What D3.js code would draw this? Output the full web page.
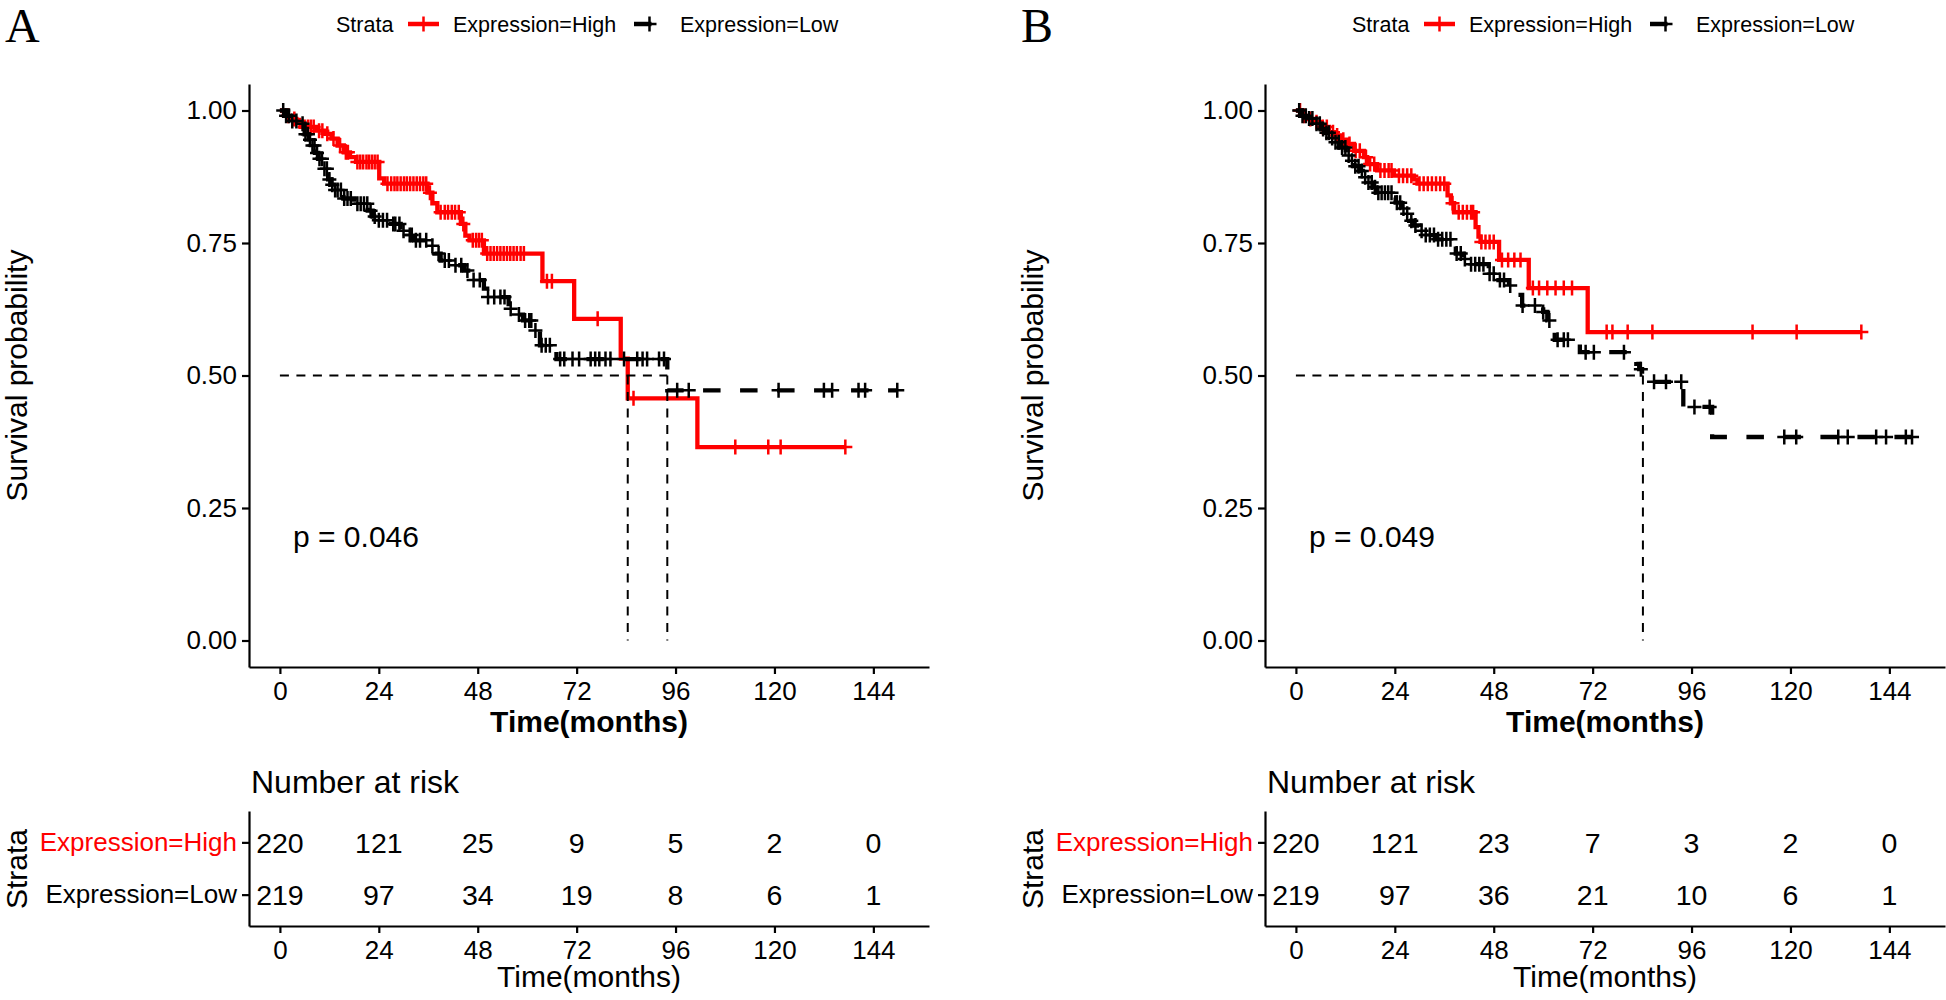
<!DOCTYPE html>
<html>
<head>
<meta charset="utf-8">
<script src="https://cdn.jsdelivr.net/npm/d3@7"></script>
<style>
body { margin: 0; background: #fff; }
svg text { font-family: "Liberation Sans", Arial, sans-serif; }
</style>
</head>
<body>
<svg id="fig" width="1946" height="1000"></svg>
<script>
// ---- data ----
var strata = ["Expression=High", "Expression=Low"];
var strataColor = ["#ff0000", "#000000"];
var panelLabels = ["A", "B"];
var timeTicks = [0, 24, 48, 72, 96, 120, 144];
var survTicks = [0, 0.25, 0.5, 0.75, 1];
var pvals = ["p = 0.046", "p = 0.049"];

// panel A, High
var highA_t = [0, 1, 2.5, 4, 5, 9, 11, 12.5, 14, 15.5, 17, 18.5, 24.1, 25.3, 35.8, 37, 38.2, 43.9, 45, 46, 49.5, 63.7, 71.4, 82.7, 84.4, 101.3];
var highA_s = [1, 0.99, 0.984, 0.978, 0.969, 0.962, 0.956, 0.947, 0.934, 0.921, 0.912, 0.903, 0.872, 0.862, 0.845, 0.825, 0.808, 0.786, 0.764, 0.755, 0.73, 0.678, 0.607, 0.532, 0.457, 0.365];
var highA_end = 137.2;
var highA_cens = [2, 3.5, 6, 6.8, 7.5, 8.2, 9.5, 10.3, 11.5, 13, 14.6, 16, 16.5, 18.8, 19.5, 20.2, 21, 21.6, 22.3, 23, 23.7, 26.1, 27, 27.8, 28.5, 29.3, 30.1, 30.8, 31.6, 32.4, 33.2, 34, 34.8, 35.5, 36.4, 39, 40, 40.8, 41.7, 42.5, 43.4, 44.5, 46.8, 47.6, 48.3, 49, 50.3, 51.1, 51.9, 52.7, 53.5, 54.3, 55.1, 55.9, 56.7, 57.5, 58.4, 59.2, 64.8, 66, 77.1, 85.8, 110.5, 118.5, 121.5, 137.2];

// panel A, Low
var lowA_t = [0, 1.5, 3, 5, 6, 7, 7.7, 8.5, 9.3, 10.5, 11.7, 12.5, 13.3, 15.4, 18, 21.3, 22.5, 23.7, 26.9, 29.3, 31, 32.6, 35.8, 37.5, 39, 41.5, 44.7, 46.3, 49.5, 50.3, 55.5, 57, 59, 61.5, 63.1, 67.1, 94];
var lowA_s = [1, 0.99, 0.98, 0.975, 0.955, 0.945, 0.934, 0.92, 0.909, 0.89, 0.87, 0.86, 0.85, 0.834, 0.824, 0.811, 0.8, 0.793, 0.786, 0.773, 0.765, 0.755, 0.745, 0.73, 0.717, 0.708, 0.698, 0.68, 0.664, 0.648, 0.626, 0.615, 0.604, 0.585, 0.557, 0.531, 0.472];
var lowA_end = 149.8;
var lowA_cens = [0.8, 1.5, 2.2, 3, 4, 5.5, 6.2, 6.8, 7.3, 7.9, 8.4, 9, 9.6, 10.2, 10.8, 11.4, 12, 12.7, 13.4, 14, 14.8, 15.6, 16.4, 17.2, 18.8, 19.6, 20.4, 21.2, 22, 23, 24, 25, 26, 27.5, 28, 29, 30, 31.5, 32, 33, 34, 35.5, 37, 38.5, 40, 41, 42.6, 44, 45.5, 47, 48.5, 50.5, 52, 53.5, 54.5, 56, 58, 59.5, 60.5, 61, 62, 63.5, 64.5, 65.5, 68, 69, 71, 72.6, 75.4, 76.5, 77.5, 79, 80.2, 83.5, 86.7, 88, 89.1, 92, 93.2, 96.4, 99.2, 121, 132, 134, 140.4, 142, 149.8];

// panel B, High
var highB_t = [0, 1.2, 2.5, 4.4, 6, 8, 9.4, 11, 12.5, 14.1, 16.5, 17.3, 19.7, 23.8, 28.6, 29.5, 36.8, 37.6, 38.4, 43.6, 44.3, 44.8, 49.3, 56.5, 70.8];
var highB_s = [1, 0.99, 0.984, 0.978, 0.969, 0.959, 0.953, 0.945, 0.937, 0.924, 0.912, 0.899, 0.887, 0.877, 0.87, 0.862, 0.84, 0.825, 0.808, 0.78, 0.762, 0.752, 0.718, 0.665, 0.582];
var highB_end = 137.2;
var highB_cens = [1, 2, 3.5, 5, 6.5, 7.5, 9, 10, 11.5, 13, 14.5, 15.5, 17, 18, 19, 20.5, 21.5, 22.5, 23.2, 25, 26, 27, 28, 30, 31, 32, 33, 34, 35, 36, 38, 39.5, 40.5, 41.5, 42.5, 43, 45, 46, 47, 48, 50, 51.5, 53, 54.5, 57.5, 59, 61, 63, 65, 67, 75.4, 76.8, 80.5, 86.5, 110.8, 121.5, 137.2];

// panel B, Low
var lowB_t = [0, 1.5, 3, 4.5, 6, 7.3, 8.3, 9.3, 10.5, 12.1, 13, 14.2, 15.4, 16.2, 17.4, 18.6, 19.4, 23.4, 24.2, 25.5, 26.7, 27.5, 28.7, 29.9, 31.5, 34, 38, 38.8, 40.4, 42, 46.8, 48.5, 51.7, 53, 54.9, 60, 61, 61.9, 62.8, 68.9, 82.6, 83.3, 84, 94, 101];
var lowB_s = [1, 0.99, 0.985, 0.975, 0.965, 0.958, 0.948, 0.94, 0.93, 0.915, 0.905, 0.895, 0.886, 0.874, 0.864, 0.855, 0.845, 0.836, 0.826, 0.815, 0.805, 0.792, 0.783, 0.773, 0.765, 0.757, 0.745, 0.73, 0.72, 0.71, 0.692, 0.68, 0.67, 0.652, 0.632, 0.62, 0.604, 0.59, 0.5675, 0.544, 0.522, 0.512, 0.488, 0.4407, 0.384];
var lowB_end = 149.5;
var lowB_cens = [0.8, 1.6, 2.4, 3.2, 4, 5, 5.8, 6.6, 7.4, 8, 8.8, 9.6, 10.4, 11.2, 12, 12.8, 13.6, 14.4, 15.2, 16, 16.8, 17.6, 18.4, 19.2, 20, 20.8, 21.6, 22.4, 23.2, 24.5, 25.3, 26.1, 27, 28, 29, 30.5, 31.5, 32.5, 33.5, 34.5, 35.5, 36.5, 37.5, 39, 40, 41, 42.5, 43.5, 44.5, 45.5, 47, 48, 49.5, 50.5, 52, 55, 58, 60, 61.5, 63.5, 65, 66, 70.3, 72.3, 79.6, 83.7, 86.9, 89.8, 93.5, 96.7, 100.4, 118.5, 121.4, 131.6, 133.9, 140.8, 143.2, 148, 149.5];

// medians (time where curve crosses 0.5)
var medianA = [84.4, 94];
var medianB = [84.2];

// number at risk
var riskA_high = [220, 121, 25, 9, 5, 2, 0];
var riskA_low = [219, 97, 34, 19, 8, 6, 1];
var riskB_high = [220, 121, 23, 7, 3, 2, 0];
var riskB_low = [219, 97, 36, 21, 10, 6, 1];

var panels = [
	{ label: panelLabels[0], off: 0, p: pvals[0], medians: medianA,
	  curves: [
		{ t: highA_t, s: highA_s, end: highA_end, cens: highA_cens },
		{ t: lowA_t, s: lowA_s, end: lowA_end, cens: lowA_cens }],
	  risk: [riskA_high, riskA_low] },
	{ label: panelLabels[1], off: 1016, p: pvals[1], medians: medianB,
	  curves: [
		{ t: highB_t, s: highB_s, end: highB_end, cens: highB_cens },
		{ t: lowB_t, s: lowB_s, end: lowB_end, cens: lowB_cens }],
	  risk: [riskB_high, riskB_low] }
];

var svg = d3.select("#fig");
var tickFont = 26;

function styleAxis(g) {
	g.select(".domain").attr("stroke", "#000").attr("stroke-width", 2.2);
	g.selectAll(".tick line").attr("stroke", "#000").attr("stroke-width", 2.2);
	g.selectAll(".tick text").attr("font-size", tickFont).attr("fill", "#000")
		.attr("font-family", "Liberation Sans, Arial, sans-serif");
}

function stepAt(c, t) {
	var i = d3.bisectRight(c.t, t) - 1;
	return c.s[Math.max(0, i)];
}

panels.forEach(function(pn) {
	var g = svg.append("g").attr("transform", "translate(" + pn.off + ",0)");

	var x = d3.scaleLinear().domain([-7.5, 157.5]).range([249, 929]);
	var y = d3.scaleLinear().domain([-0.05, 1.05]).range([667, 84]);

	// panel letter
	g.append("text").attr("x", 5).attr("y", 42)
		.style("font-family", "Liberation Serif, Times New Roman, serif")
		.attr("font-size", 48).text(pn.label);

	// legend
	var lg = g.append("g").attr("class", "legend");
	lg.append("text").attr("x", 336).attr("y", 32).attr("font-size", 21.5).text("Strata");
	var keyX = [408, 634], labX = [453, 680];
	strata.forEach(function(s, i) {
		lg.append("line").attr("x1", keyX[i]).attr("x2", keyX[i] + 31)
			.attr("y1", 24).attr("y2", 24)
			.attr("stroke", strataColor[i]).attr("stroke-width", 4.5)
			.attr("stroke-dasharray", i === 1 ? "17.5,19.5" : null);
		var cx = keyX[i] + 15.5;
		lg.append("path").attr("d", "M" + (cx - 7) + ",24H" + (cx + 7) + "M" + cx + ",16.5V31.5")
			.attr("stroke", strataColor[i]).attr("stroke-width", 2.5).attr("fill", "none");
		lg.append("text").attr("x", labX[i]).attr("y", 32).attr("font-size", 21.5).text(s);
	});

	// axes
	var gx = g.append("g").attr("transform", "translate(0,667)")
		.call(d3.axisBottom(x).tickValues(timeTicks).tickSize(7).tickSizeOuter(0).tickPadding(7.8));
	styleAxis(gx);
	var gy = g.append("g").attr("transform", "translate(249,0)")
		.call(d3.axisLeft(y).tickValues(survTicks).tickSize(7).tickSizeOuter(0).tickPadding(5)
			.tickFormat(d3.format(".2f")));
	styleAxis(gy);

	g.append("text").attr("transform", "translate(27,375.5) rotate(-90)")
		.attr("text-anchor", "middle").attr("font-size", 30).text("Survival probability");
	g.append("text").attr("x", 589).attr("y", 732).attr("text-anchor", "middle")
		.attr("font-size", 30).attr("font-weight", "bold").text("Time(months)");

	// curves
	var line = d3.line().x(function(d) { return x(d[0]); }).y(function(d) { return y(d[1]); })
		.curve(d3.curveStepAfter);
	pn.curves.forEach(function(c, i) {
		var pts = c.t.map(function(t, k) { return [t, c.s[k]]; });
		pts.push([c.end, c.s[c.s.length - 1]]);
		g.append("path").datum(pts).attr("d", line)
			.attr("fill", "none").attr("stroke", strataColor[i]).attr("stroke-width", 4.3)
			.attr("stroke-dasharray", i === 1 ? "17.5,19.5" : null);
		g.append("g").selectAll("path").data(c.cens).enter().append("path")
			.attr("d", function(t) {
				var px = x(t), py = y(stepAt(c, t));
				return "M" + (px - 7) + "," + py + "H" + (px + 7) + "M" + px + "," + (py - 7.5) + "V" + (py + 7.5);
			})
			.attr("stroke", strataColor[i]).attr("stroke-width", 2.5).attr("fill", "none");
	});

	// median lines
	var mg = g.append("g").attr("stroke", "#000").attr("stroke-width", 2).attr("stroke-dasharray", "9,7.5").attr("fill", "none");
	mg.append("line").attr("x1", x(0)).attr("x2", x(d3.max(pn.medians)))
		.attr("y1", y(0.5)).attr("y2", y(0.5));
	pn.medians.forEach(function(m) {
		mg.append("line").attr("x1", x(m)).attr("x2", x(m)).attr("y1", y(0.5)).attr("y2", y(0));
	});

	// p value
	g.append("text").attr("x", 293).attr("y", 547).attr("font-size", 30).text(pn.p);

	// risk table
	var ry = d3.scaleLinear().domain([-0.6, 1.6]).range([811, 926]);
	g.append("text").attr("x", 251).attr("y", 793).attr("font-size", 32).text("Number at risk");
	var rx = g.append("g").attr("transform", "translate(0,926)")
		.call(d3.axisBottom(x).tickValues(timeTicks).tickSize(7).tickSizeOuter(0).tickPadding(7.8));
	styleAxis(rx);
	var ryAxis = g.append("g").attr("transform", "translate(249,0)")
		.call(d3.axisLeft(ry).tickValues([0, 1]).tickSize(7).tickSizeOuter(0).tickPadding(5)
			.tickFormat(function(d) { return strata[d]; }));
	styleAxis(ryAxis);
	ryAxis.selectAll(".tick text").attr("fill", function(d) { return strataColor[d]; });

	pn.risk.forEach(function(row, i) {
		g.append("g").selectAll("text").data(row).enter().append("text")
			.attr("x", function(d, k) { return x(timeTicks[k]); })
			.attr("y", ry(i) + 10.2)
			.attr("text-anchor", "middle").attr("font-size", 28.5)
			.text(function(d) { return d; });
	});
	g.append("text").attr("transform", "translate(27,869) rotate(-90)")
		.attr("text-anchor", "middle").attr("font-size", 30).text("Strata");
	g.append("text").attr("x", 589).attr("y", 987).attr("text-anchor", "middle")
		.attr("font-size", 30).text("Time(months)");
});
</script>
</body>
</html>
